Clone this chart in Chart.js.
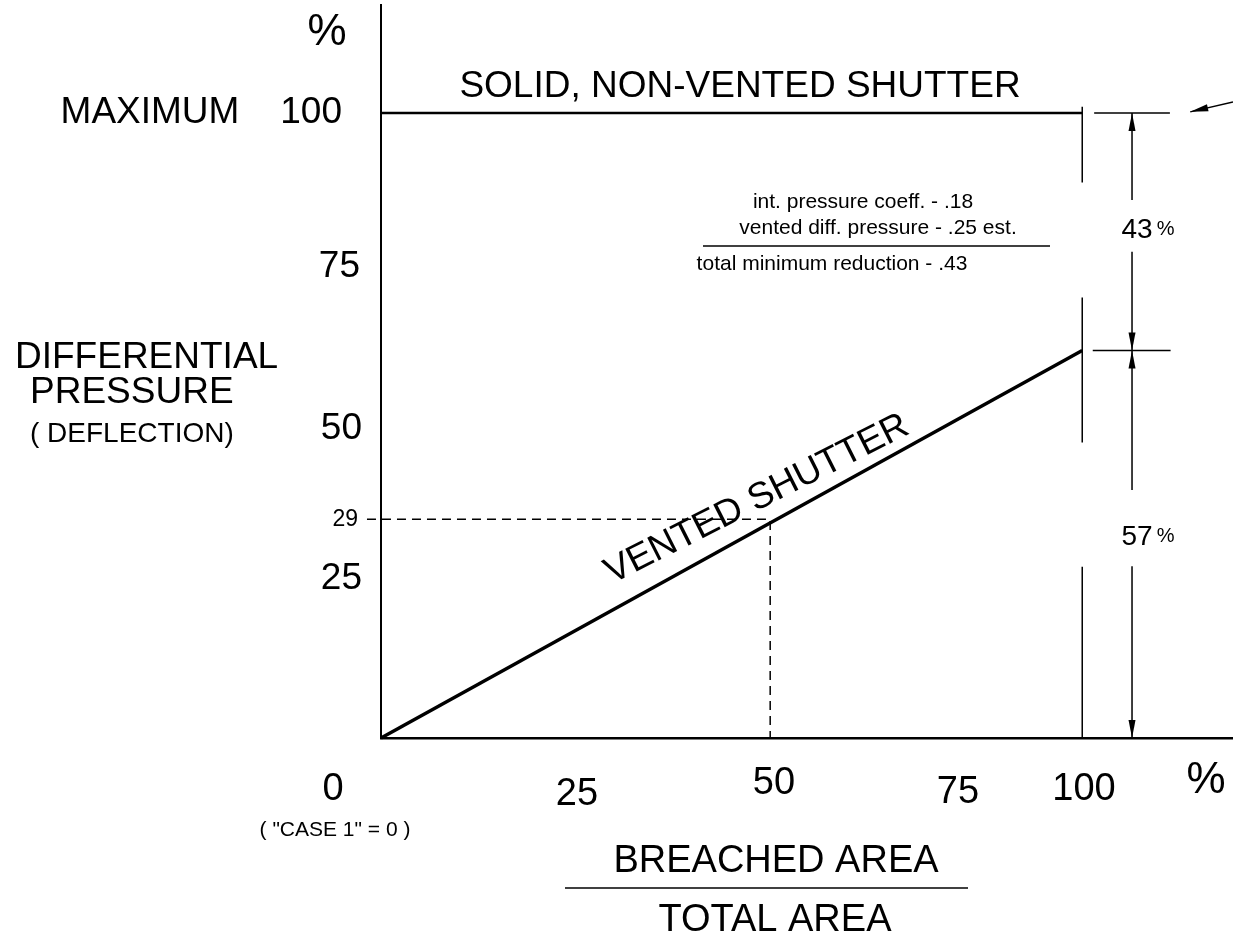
<!DOCTYPE html>
<html>
<head>
<meta charset="utf-8">
<script src="https://cdn.jsdelivr.net/npm/chart.js@4.4.1/dist/chart.umd.min.js"></script>
<style>
html,body{margin:0;padding:0;background:#fff;}
#wrap{width:1233px;height:940px;}
</style>
</head>
<body>
<div id="wrap"><canvas id="c" width="1233" height="940"></canvas></div>
<script>
// ---- data ----
const solidX = [0, 100];
const solidY = [100, 100];
const ventedX = [0, 100];
const ventedY = [0, 62];
const readX = [-2, 55.5, 55.5];
const readY = [35, 35, 0];
const extX = [100, 100, 100, 100, 100, 100, 100, 100];
const extY = [101, 88.9, null, 70.5, 47.3, null, 27.4, 0];
const dimX = [107.1, 107.1, 107.1, 107.1, 107.1, 107.1];
const dimY = [100, 86.1, null, 77.8, 39.7, null];
const dimX2 = [107.1, 107.1];
const dimY2 = [27.5, 0];
const tickTopX = [101.7, 112.5];
const tickTopY = [100, 100];
const tickMidX = [101.5, 112.6];
const tickMidY = [62, 62];
const pointerX = [115.4, 121.5];
const pointerY = [100.2, 101.8];

const yTickLabels = ['100', '75', '50', '25'];
const xTickLabels = ['0', '25', '50', '75', '100', '%'];
const readLabel = '29';
const upperPct = '43';
const lowerPct = '57';
const noteLines = ['int. pressure coeff. - .18', 'vented diff. pressure - .25 est.', 'total minimum reduction - .43'];

const pts = (xs, ys) => xs.map((x, i) => ({x: x, y: ys[i]}));
const FONT = '"Liberation Sans", Arial, Helvetica, sans-serif';

function seg(data, w, dash) {
  return {data: data, borderColor: '#000', borderWidth: w, borderDash: dash || [],
    pointRadius: 0, fill: false, tension: 0, clip: false, spanGaps: false};
}

function arrowHead(ctx, tx, ty, dx, dy, len, half) {
  const n = Math.hypot(dx, dy); dx /= n; dy /= n;
  const bx = tx - dx * len, by = ty - dy * len;
  ctx.beginPath();
  ctx.moveTo(tx, ty);
  ctx.lineTo(bx - dy * half, by + dx * half);
  ctx.lineTo(bx + dy * half, by - dx * half);
  ctx.closePath();
  ctx.fill();
}

const textPlugin = {
  id: 'texts',
  afterDraw(chart) {
    const ctx = chart.ctx;
    const xs = chart.scales.x, ys = chart.scales.y;
    ctx.save();
    ctx.fillStyle = '#000';
    ctx.strokeStyle = '#000';
    // arrowheads on dimension lines
    const ax = xs.getPixelForValue(dimX[0]);
    arrowHead(ctx, ax, ys.getPixelForValue(100), 0, -1, 18, 3.5);
    arrowHead(ctx, ax, ys.getPixelForValue(62), 0, 1, 18, 3.5);
    arrowHead(ctx, ax, ys.getPixelForValue(62), 0, -1, 18, 3.5);
    arrowHead(ctx, ax, ys.getPixelForValue(0), 0, 1, 18, 3.5);
    const p0x = xs.getPixelForValue(pointerX[0]), p0y = ys.getPixelForValue(pointerY[0]);
    const p1x = xs.getPixelForValue(pointerX[1]), p1y = ys.getPixelForValue(pointerY[1]);
    arrowHead(ctx, p0x, p0y, p0x - p1x, p0y - p1y, 18, 3.5);

    const T = (s, x, y, size, align) => {
      ctx.font = size + 'px ' + FONT;
      ctx.textAlign = align || 'center';
      ctx.textBaseline = 'middle';
      ctx.fillText(s, x, y);
    };
    // y side
    T('%', 327, 33, 44);
    T('MAXIMUM', 150, 113, 37);
    T(yTickLabels[0], 342, 113, 37, 'right');
    T(yTickLabels[1], 360, 267, 37, 'right');
    T(yTickLabels[2], 362, 429, 37, 'right');
    T(yTickLabels[3], 362, 579, 37, 'right');
    T(readLabel, 358, 520, 23, 'right');
    T('DIFFERENTIAL', 15, 358, 37, 'left');
    T('PRESSURE', 30, 393, 37, 'left');
    T('( DEFLECTION)', 30, 434, 28, 'left');
    // title on solid line
    T('SOLID, NON-VENTED SHUTTER', 740, 87, 37);
    // note
    T(noteLines[0], 863, 202, 21);
    T(noteLines[1], 878, 228, 21);
    ctx.lineWidth = 1.5;
    ctx.beginPath(); ctx.moveTo(703, 246); ctx.lineTo(1050, 246); ctx.stroke();
    T(noteLines[2], 832, 264, 21);
    // percentages
    const pct = (num, cx, cy) => {
      ctx.font = '28px ' + FONT;
      const w1 = ctx.measureText(num).width;
      ctx.font = '20px ' + FONT;
      const w2 = ctx.measureText('%').width;
      const total = w1 + 4 + w2;
      const left = cx - total / 2;
      ctx.textAlign = 'left'; ctx.textBaseline = 'alphabetic';
      ctx.font = '28px ' + FONT; ctx.fillText(num, left, cy + 10);
      ctx.font = '20px ' + FONT; ctx.fillText('%', left + w1 + 4, cy + 7);
    };
    pct(upperPct, 1148, 228);
    pct(lowerPct, 1148, 535);
    // vented label
    ctx.save();
    ctx.translate(612, 584);
    ctx.rotate(-26.8 * Math.PI / 180);
    ctx.font = '37px ' + FONT;
    ctx.textAlign = 'left'; ctx.textBaseline = 'alphabetic';
    ctx.fillText('VENTED SHUTTER', 0, 0);
    ctx.restore();
    // x side
    T(xTickLabels[0], 333, 790, 38);
    T(xTickLabels[1], 577, 795, 38);
    T(xTickLabels[2], 774, 784, 38);
    T(xTickLabels[3], 958, 793, 38);
    T(xTickLabels[4], 1084, 790, 38);
    T(xTickLabels[5], 1206, 781, 44);
    T('( "CASE 1" = 0 )', 335, 830, 21);
    T('BREACHED AREA', 776, 862, 38);
    ctx.lineWidth = 1.5;
    ctx.beginPath(); ctx.moveTo(565, 888); ctx.lineTo(968, 888); ctx.stroke();
    T('TOTAL AREA', 775, 921, 38);
    ctx.restore();
  }
};

new Chart(document.getElementById('c'), {
  type: 'line',
  data: {
    datasets: [
      seg(pts(solidX, solidY), 2.5),
      seg(pts(ventedX, ventedY), 3.5),
      seg(pts(readX, readY), 1.5, [9, 6]),
      seg(pts(extX, extY), 1.5),
      seg(pts(dimX, dimY), 1.5),
      seg(pts(dimX2, dimY2), 1.5),
      seg(pts(tickTopX, tickTopY), 1.5),
      seg(pts(tickMidX, tickMidY), 1.5),
      seg(pts(pointerX, pointerY), 1.5)
    ]
  },
  options: {
    responsive: false,
    animation: false,
    devicePixelRatio: 1,
    layout: {padding: {left: 381, right: 0, top: 5, bottom: 202}},
    plugins: {legend: {display: false}, tooltip: {enabled: false}},
    scales: {
      x: {type: 'linear', min: 0, max: 121.5,
        grid: {display: false}, ticks: {display: false},
        border: {display: true, color: '#000', width: 2.5},
        afterFit: s => { s.height = 0; }},
      y: {type: 'linear', min: 0, max: 117.3,
        grid: {display: false}, ticks: {display: false},
        border: {display: true, color: '#000', width: 2},
        afterFit: s => { s.width = 0; }}
    }
  },
  plugins: [textPlugin]
});
</script>
</body>
</html>
